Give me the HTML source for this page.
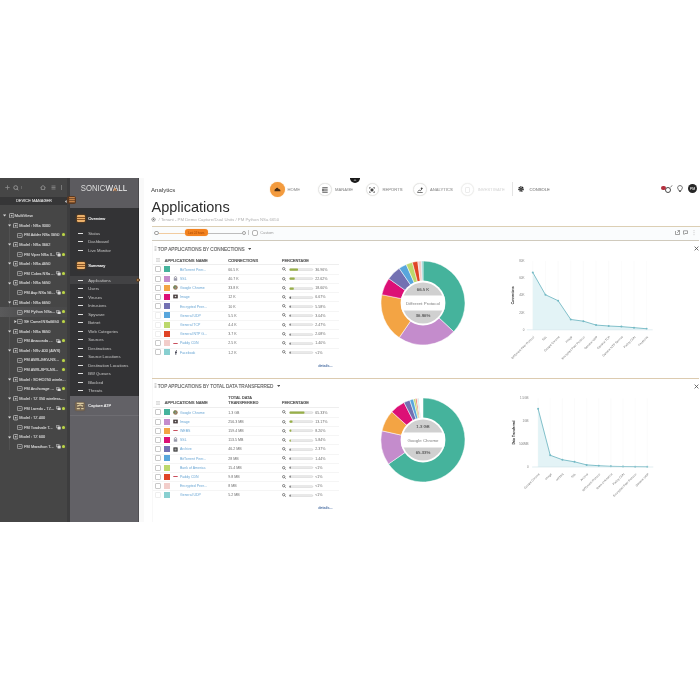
<!DOCTYPE html>
<html><head><meta charset="utf-8"><style>
*{box-sizing:border-box;margin:0;padding:0}
html,body{width:700px;height:700px;background:#fff;overflow:hidden;font-family:"Liberation Sans", sans-serif}
.a{position:absolute;white-space:nowrap;line-height:1}
</style></head><body>

<div class="a" style="left:0px;top:178px;width:69.5px;height:344px;background:#464646;"></div>
<div class="a" style="left:0px;top:197px;width:69.5px;height:8.2px;background:#363637;"></div>
<div class="a" style="left:66.5px;top:178px;width:3px;height:344px;background:#3d3d3e;"></div>
<svg class="a" style="left:5px;top:185px" width="5" height="5"><path d="M2.5 0.3 V4.7 M0.3 2.5 H4.7" stroke="#8c8c8c" stroke-width="0.8"/></svg>
<svg class="a" style="left:12.8px;top:184.8px" width="6" height="6"><circle cx="2.7" cy="2.6" r="1.9" fill="none" stroke="#999" stroke-width="0.9"/><line x1="4" y1="3.9" x2="5.4" y2="5.3" stroke="#999" stroke-width="0.9"/></svg>
<div class="a" style="left:20.8px;top:186px;width:0.5px;height:3px;background:#666;"></div>
<svg class="a" style="left:40px;top:185px" width="6" height="5"><path d="M0.5 2.6 L3 0.5 L5.5 2.6 M1.3 2.2 V4.6 H4.7 V2.2" fill="none" stroke="#999" stroke-width="0.8"/></svg>
<svg class="a" style="left:50.6px;top:185px" width="5" height="5"><path d="M0.5 1 H4.5 M0.5 2.5 H4.5 M0.5 4 H4.5" stroke="#8a8a8a" stroke-width="0.8"/></svg>
<div class="a" style="left:60.8px;top:185px;width:0.6px;height:5px;background:#777;"></div>
<div class="a" style="left:9.4px;top:220px;width:0.5px;height:230px;background:#515151;"></div>
<svg class="a" style="left:3px;top:214.30px" width="3.2" height="3"><path d="M0 0.4 H3.2 L1.6 2.6 Z" fill="#d8d8d8"/></svg>
<svg class="a" style="left:8.5px;top:213.10px" width="5.4" height="5.4"><rect x="0.45" y="0.45" width="4.5" height="4.5" rx="1" fill="none" stroke="#cfcfcf" stroke-width="0.75"/><rect x="1.9" y="1.9" width="1.6" height="1.6" fill="#bdbdbd"/></svg>
<svg class="a" style="left:8px;top:223.92px" width="3.2" height="3"><path d="M0 0.4 H3.2 L1.6 2.6 Z" fill="#d8d8d8"/></svg>
<svg class="a" style="left:12.8px;top:222.72px" width="5.4" height="5.4"><rect x="0.45" y="0.45" width="4.5" height="4.5" rx="1" fill="none" stroke="#cfcfcf" stroke-width="0.75"/><rect x="1.9" y="1.9" width="1.6" height="1.6" fill="#bdbdbd"/></svg>
<svg class="a" style="left:17.2px;top:232.54px" width="5.6" height="5"><rect x="0.4" y="0.4" width="4.8" height="4.2" rx="0.8" fill="none" stroke="#c6c6c6" stroke-width="0.7"/><path d="M1.6 2.5 H4" stroke="#aaa" stroke-width="0.6"/></svg>
<div class="a" style="left:61.9px;top:233.44px;width:3px;height:3px;border-radius:50%;background:#bcd64a;box-shadow:0 0 1.2px #7a8a30"></div>
<svg class="a" style="left:8px;top:243.16px" width="3.2" height="3"><path d="M0 0.4 H3.2 L1.6 2.6 Z" fill="#d8d8d8"/></svg>
<svg class="a" style="left:12.8px;top:241.96px" width="5.4" height="5.4"><rect x="0.45" y="0.45" width="4.5" height="4.5" rx="1" fill="none" stroke="#cfcfcf" stroke-width="0.75"/><rect x="1.9" y="1.9" width="1.6" height="1.6" fill="#bdbdbd"/></svg>
<svg class="a" style="left:17.2px;top:251.78px" width="5.6" height="5"><rect x="0.4" y="0.4" width="4.8" height="4.2" rx="0.8" fill="none" stroke="#c6c6c6" stroke-width="0.7"/><path d="M1.6 2.5 H4" stroke="#aaa" stroke-width="0.6"/></svg>
<svg class="a" style="left:55.5px;top:251.98px" width="5" height="4.6"><path d="M0.4 0.4 H3.2 V1.2 M0.4 0.4 V2.8 H1.2" fill="none" stroke="#d0d0d0" stroke-width="0.6"/><rect x="1.5" y="1.5" width="3.2" height="2.9" rx="0.4" fill="#d8d8d8"/></svg>
<div class="a" style="left:61.9px;top:252.68px;width:3px;height:3px;border-radius:50%;background:#bcd64a;box-shadow:0 0 1.2px #7a8a30"></div>
<svg class="a" style="left:8px;top:262.40px" width="3.2" height="3"><path d="M0 0.4 H3.2 L1.6 2.6 Z" fill="#d8d8d8"/></svg>
<svg class="a" style="left:12.8px;top:261.20px" width="5.4" height="5.4"><rect x="0.45" y="0.45" width="4.5" height="4.5" rx="1" fill="none" stroke="#cfcfcf" stroke-width="0.75"/><rect x="1.9" y="1.9" width="1.6" height="1.6" fill="#bdbdbd"/></svg>
<svg class="a" style="left:17.2px;top:271.02px" width="5.6" height="5"><rect x="0.4" y="0.4" width="4.8" height="4.2" rx="0.8" fill="none" stroke="#c6c6c6" stroke-width="0.7"/><path d="M1.6 2.5 H4" stroke="#aaa" stroke-width="0.6"/></svg>
<svg class="a" style="left:55.5px;top:271.22px" width="5" height="4.6"><path d="M0.4 0.4 H3.2 V1.2 M0.4 0.4 V2.8 H1.2" fill="none" stroke="#d0d0d0" stroke-width="0.6"/><rect x="1.5" y="1.5" width="3.2" height="2.9" rx="0.4" fill="#d8d8d8"/></svg>
<div class="a" style="left:61.9px;top:271.92px;width:3px;height:3px;border-radius:50%;background:#bcd64a;box-shadow:0 0 1.2px #7a8a30"></div>
<svg class="a" style="left:8px;top:281.64px" width="3.2" height="3"><path d="M0 0.4 H3.2 L1.6 2.6 Z" fill="#d8d8d8"/></svg>
<svg class="a" style="left:12.8px;top:280.44px" width="5.4" height="5.4"><rect x="0.45" y="0.45" width="4.5" height="4.5" rx="1" fill="none" stroke="#cfcfcf" stroke-width="0.75"/><rect x="1.9" y="1.9" width="1.6" height="1.6" fill="#bdbdbd"/></svg>
<svg class="a" style="left:17.2px;top:290.26px" width="5.6" height="5"><rect x="0.4" y="0.4" width="4.8" height="4.2" rx="0.8" fill="none" stroke="#c6c6c6" stroke-width="0.7"/><path d="M1.6 2.5 H4" stroke="#aaa" stroke-width="0.6"/></svg>
<svg class="a" style="left:55.5px;top:290.46px" width="5" height="4.6"><path d="M0.4 0.4 H3.2 V1.2 M0.4 0.4 V2.8 H1.2" fill="none" stroke="#d0d0d0" stroke-width="0.6"/><rect x="1.5" y="1.5" width="3.2" height="2.9" rx="0.4" fill="#d8d8d8"/></svg>
<div class="a" style="left:61.9px;top:291.16px;width:3px;height:3px;border-radius:50%;background:#bcd64a;box-shadow:0 0 1.2px #7a8a30"></div>
<svg class="a" style="left:8px;top:300.88px" width="3.2" height="3"><path d="M0 0.4 H3.2 L1.6 2.6 Z" fill="#d8d8d8"/></svg>
<svg class="a" style="left:12.8px;top:299.68px" width="5.4" height="5.4"><rect x="0.45" y="0.45" width="4.5" height="4.5" rx="1" fill="none" stroke="#cfcfcf" stroke-width="0.75"/><rect x="1.9" y="1.9" width="1.6" height="1.6" fill="#bdbdbd"/></svg>
<div class="a" style="left:0px;top:307.2px;width:66.5px;height:9.4px;background:linear-gradient(90deg,#5a5a5b 0%,#525253 25%,#4c4c4d 60%,#49494a 100%);"></div>
<svg class="a" style="left:17.2px;top:309.50px" width="5.6" height="5"><rect x="0.4" y="0.4" width="4.8" height="4.2" rx="0.8" fill="none" stroke="#c6c6c6" stroke-width="0.7"/><path d="M1.6 2.5 H4" stroke="#aaa" stroke-width="0.6"/></svg>
<svg class="a" style="left:55.5px;top:309.70px" width="5" height="4.6"><path d="M0.4 0.4 H3.2 V1.2 M0.4 0.4 V2.8 H1.2" fill="none" stroke="#d0d0d0" stroke-width="0.6"/><rect x="1.5" y="1.5" width="3.2" height="2.9" rx="0.4" fill="#d8d8d8"/></svg>
<div class="a" style="left:61.9px;top:310.40px;width:3px;height:3px;border-radius:50%;background:#bcd64a;box-shadow:0 0 1.2px #7a8a30"></div>
<svg class="a" style="left:13.8px;top:319.92px" width="3" height="3.2"><path d="M0.4 0 V3.2 L2.6 1.6 Z" fill="#d8d8d8"/></svg>
<svg class="a" style="left:17.2px;top:319.12px" width="5.6" height="5"><rect x="0.4" y="0.4" width="4.8" height="4.2" rx="0.8" fill="none" stroke="#c6c6c6" stroke-width="0.7"/><path d="M1.6 2.5 H4" stroke="#aaa" stroke-width="0.6"/></svg>
<div class="a" style="left:61.9px;top:320.02px;width:3px;height:3px;border-radius:50%;background:#bcd64a;box-shadow:0 0 1.2px #7a8a30"></div>
<svg class="a" style="left:8px;top:329.74px" width="3.2" height="3"><path d="M0 0.4 H3.2 L1.6 2.6 Z" fill="#d8d8d8"/></svg>
<svg class="a" style="left:12.8px;top:328.54px" width="5.4" height="5.4"><rect x="0.45" y="0.45" width="4.5" height="4.5" rx="1" fill="none" stroke="#cfcfcf" stroke-width="0.75"/><rect x="1.9" y="1.9" width="1.6" height="1.6" fill="#bdbdbd"/></svg>
<svg class="a" style="left:17.2px;top:338.36px" width="5.6" height="5"><rect x="0.4" y="0.4" width="4.8" height="4.2" rx="0.8" fill="none" stroke="#c6c6c6" stroke-width="0.7"/><path d="M1.6 2.5 H4" stroke="#aaa" stroke-width="0.6"/></svg>
<svg class="a" style="left:55.5px;top:338.56px" width="5" height="4.6"><path d="M0.4 0.4 H3.2 V1.2 M0.4 0.4 V2.8 H1.2" fill="none" stroke="#d0d0d0" stroke-width="0.6"/><rect x="1.5" y="1.5" width="3.2" height="2.9" rx="0.4" fill="#d8d8d8"/></svg>
<div class="a" style="left:61.9px;top:339.26px;width:3px;height:3px;border-radius:50%;background:#bcd64a;box-shadow:0 0 1.2px #7a8a30"></div>
<svg class="a" style="left:8px;top:348.98px" width="3.2" height="3"><path d="M0 0.4 H3.2 L1.6 2.6 Z" fill="#d8d8d8"/></svg>
<svg class="a" style="left:12.8px;top:347.78px" width="5.4" height="5.4"><rect x="0.45" y="0.45" width="4.5" height="4.5" rx="1" fill="none" stroke="#cfcfcf" stroke-width="0.75"/><rect x="1.9" y="1.9" width="1.6" height="1.6" fill="#bdbdbd"/></svg>
<svg class="a" style="left:17.2px;top:357.60px" width="5.6" height="5"><rect x="0.4" y="0.4" width="4.8" height="4.2" rx="0.8" fill="none" stroke="#c6c6c6" stroke-width="0.7"/><path d="M1.6 2.5 H4" stroke="#aaa" stroke-width="0.6"/></svg>
<div class="a" style="left:61.9px;top:358.50px;width:3px;height:3px;border-radius:50%;background:#bcd64a;box-shadow:0 0 1.2px #7a8a30"></div>
<svg class="a" style="left:17.2px;top:367.22px" width="5.6" height="5"><rect x="0.4" y="0.4" width="4.8" height="4.2" rx="0.8" fill="none" stroke="#c6c6c6" stroke-width="0.7"/><path d="M1.6 2.5 H4" stroke="#aaa" stroke-width="0.6"/></svg>
<div class="a" style="left:61.9px;top:368.12px;width:3px;height:3px;border-radius:50%;background:#bcd64a;box-shadow:0 0 1.2px #7a8a30"></div>
<svg class="a" style="left:8px;top:377.84px" width="3.2" height="3"><path d="M0 0.4 H3.2 L1.6 2.6 Z" fill="#d8d8d8"/></svg>
<svg class="a" style="left:12.8px;top:376.64px" width="5.4" height="5.4"><rect x="0.45" y="0.45" width="4.5" height="4.5" rx="1" fill="none" stroke="#cfcfcf" stroke-width="0.75"/><rect x="1.9" y="1.9" width="1.6" height="1.6" fill="#bdbdbd"/></svg>
<svg class="a" style="left:17.2px;top:386.46px" width="5.6" height="5"><rect x="0.4" y="0.4" width="4.8" height="4.2" rx="0.8" fill="none" stroke="#c6c6c6" stroke-width="0.7"/><path d="M1.6 2.5 H4" stroke="#aaa" stroke-width="0.6"/></svg>
<svg class="a" style="left:55.5px;top:386.66px" width="5" height="4.6"><path d="M0.4 0.4 H3.2 V1.2 M0.4 0.4 V2.8 H1.2" fill="none" stroke="#d0d0d0" stroke-width="0.6"/><rect x="1.5" y="1.5" width="3.2" height="2.9" rx="0.4" fill="#d8d8d8"/></svg>
<div class="a" style="left:61.9px;top:387.36px;width:3px;height:3px;border-radius:50%;background:#bcd64a;box-shadow:0 0 1.2px #7a8a30"></div>
<svg class="a" style="left:8px;top:397.08px" width="3.2" height="3"><path d="M0 0.4 H3.2 L1.6 2.6 Z" fill="#d8d8d8"/></svg>
<svg class="a" style="left:12.8px;top:395.88px" width="5.4" height="5.4"><rect x="0.45" y="0.45" width="4.5" height="4.5" rx="1" fill="none" stroke="#cfcfcf" stroke-width="0.75"/><rect x="1.9" y="1.9" width="1.6" height="1.6" fill="#bdbdbd"/></svg>
<svg class="a" style="left:17.2px;top:405.70px" width="5.6" height="5"><rect x="0.4" y="0.4" width="4.8" height="4.2" rx="0.8" fill="none" stroke="#c6c6c6" stroke-width="0.7"/><path d="M1.6 2.5 H4" stroke="#aaa" stroke-width="0.6"/></svg>
<svg class="a" style="left:55.5px;top:405.90px" width="5" height="4.6"><path d="M0.4 0.4 H3.2 V1.2 M0.4 0.4 V2.8 H1.2" fill="none" stroke="#d0d0d0" stroke-width="0.6"/><rect x="1.5" y="1.5" width="3.2" height="2.9" rx="0.4" fill="#d8d8d8"/></svg>
<div class="a" style="left:61.9px;top:406.60px;width:3px;height:3px;border-radius:50%;background:#bcd64a;box-shadow:0 0 1.2px #7a8a30"></div>
<svg class="a" style="left:8px;top:416.32px" width="3.2" height="3"><path d="M0 0.4 H3.2 L1.6 2.6 Z" fill="#d8d8d8"/></svg>
<svg class="a" style="left:12.8px;top:415.12px" width="5.4" height="5.4"><rect x="0.45" y="0.45" width="4.5" height="4.5" rx="1" fill="none" stroke="#cfcfcf" stroke-width="0.75"/><rect x="1.9" y="1.9" width="1.6" height="1.6" fill="#bdbdbd"/></svg>
<svg class="a" style="left:17.2px;top:424.94px" width="5.6" height="5"><rect x="0.4" y="0.4" width="4.8" height="4.2" rx="0.8" fill="none" stroke="#c6c6c6" stroke-width="0.7"/><path d="M1.6 2.5 H4" stroke="#aaa" stroke-width="0.6"/></svg>
<svg class="a" style="left:55.5px;top:425.14px" width="5" height="4.6"><path d="M0.4 0.4 H3.2 V1.2 M0.4 0.4 V2.8 H1.2" fill="none" stroke="#d0d0d0" stroke-width="0.6"/><rect x="1.5" y="1.5" width="3.2" height="2.9" rx="0.4" fill="#d8d8d8"/></svg>
<div class="a" style="left:61.9px;top:425.84px;width:3px;height:3px;border-radius:50%;background:#bcd64a;box-shadow:0 0 1.2px #7a8a30"></div>
<svg class="a" style="left:8px;top:435.56px" width="3.2" height="3"><path d="M0 0.4 H3.2 L1.6 2.6 Z" fill="#d8d8d8"/></svg>
<svg class="a" style="left:12.8px;top:434.36px" width="5.4" height="5.4"><rect x="0.45" y="0.45" width="4.5" height="4.5" rx="1" fill="none" stroke="#cfcfcf" stroke-width="0.75"/><rect x="1.9" y="1.9" width="1.6" height="1.6" fill="#bdbdbd"/></svg>
<svg class="a" style="left:17.2px;top:444.18px" width="5.6" height="5"><rect x="0.4" y="0.4" width="4.8" height="4.2" rx="0.8" fill="none" stroke="#c6c6c6" stroke-width="0.7"/><path d="M1.6 2.5 H4" stroke="#aaa" stroke-width="0.6"/></svg>
<svg class="a" style="left:55.5px;top:444.38px" width="5" height="4.6"><path d="M0.4 0.4 H3.2 V1.2 M0.4 0.4 V2.8 H1.2" fill="none" stroke="#d0d0d0" stroke-width="0.6"/><rect x="1.5" y="1.5" width="3.2" height="2.9" rx="0.4" fill="#d8d8d8"/></svg>
<div class="a" style="left:61.9px;top:445.08px;width:3px;height:3px;border-radius:50%;background:#bcd64a;box-shadow:0 0 1.2px #7a8a30"></div>
<div class="a" style="left:69.5px;top:178px;width:69.2px;height:30px;background:#5c5b5f;"></div>
<div class="a" style="left:69.5px;top:208px;width:69.2px;height:188px;background:#333335;"></div>
<div class="a" style="left:69.5px;top:396px;width:69.2px;height:126px;background:#626166;"></div>
<div class="a" style="left:69.5px;top:415px;width:69.2px;height:0.5px;background:#6e6d72;"></div>
<svg class="a" style="left:64.5px;top:200px" width="2" height="3"><path d="M0 1.5 L1.6 0 V3Z" fill="#ddd"/></svg>
<div class="a" style="left:67.2px;top:195.8px;width:8.8px;height:8.6px;border-radius:2.5px;background:#5a3820"></div>
<svg class="a" style="left:68.6px;top:197.4px" width="6" height="5.6"><path d="M0.2 0.8 H5.8 M0.2 2.8 H5.8 M0.2 4.8 H5.8" stroke="#e89a55" stroke-width="1.1"/></svg>
<div class="a" style="left:77px;top:214.5px;width:7.5px;height:7.6px;background:#ecb06a;border-radius:1.2px;box-shadow:0 0 1.6px 0.6px #6a4218"></div>
<div class="a" style="left:77px;top:216.85px;width:7.5px;height:0.6px;background:#8a5526;"></div>
<div class="a" style="left:77px;top:219.35px;width:7.5px;height:0.6px;background:#8a5526;"></div>
<div class="a" style="left:77px;top:261.5px;width:7.5px;height:7.6px;background:#ecb06a;border-radius:1.2px;box-shadow:0 0 1.6px 0.6px #6a4218"></div>
<div class="a" style="left:77px;top:263.85px;width:7.5px;height:0.6px;background:#8a5526;"></div>
<div class="a" style="left:77px;top:266.35px;width:7.5px;height:0.6px;background:#8a5526;"></div>
<div class="a" style="left:78px;top:232.55px;width:5.2px;height:0.9px;background:#e0e0e0;"></div>
<div class="a" style="left:78px;top:241.15px;width:5.2px;height:0.9px;background:#e0e0e0;"></div>
<div class="a" style="left:78px;top:249.75px;width:5.2px;height:0.9px;background:#e0e0e0;"></div>
<div class="a" style="left:69.5px;top:275.8px;width:69.2px;height:8.5px;background:#424244;"></div>
<div class="a" style="left:78px;top:279.95px;width:5.2px;height:0.9px;background:#e0e0e0;"></div>
<div class="a" style="left:78px;top:288.45px;width:5.2px;height:0.9px;background:#e0e0e0;"></div>
<div class="a" style="left:78px;top:296.95px;width:5.2px;height:0.9px;background:#e0e0e0;"></div>
<div class="a" style="left:78px;top:305.45px;width:5.2px;height:0.9px;background:#e0e0e0;"></div>
<div class="a" style="left:78px;top:313.95px;width:5.2px;height:0.9px;background:#e0e0e0;"></div>
<div class="a" style="left:78px;top:322.45px;width:5.2px;height:0.9px;background:#e0e0e0;"></div>
<div class="a" style="left:78px;top:330.95px;width:5.2px;height:0.9px;background:#e0e0e0;"></div>
<div class="a" style="left:78px;top:339.45px;width:5.2px;height:0.9px;background:#e0e0e0;"></div>
<div class="a" style="left:78px;top:347.95px;width:5.2px;height:0.9px;background:#e0e0e0;"></div>
<div class="a" style="left:78px;top:356.45px;width:5.2px;height:0.9px;background:#e0e0e0;"></div>
<div class="a" style="left:78px;top:364.95px;width:5.2px;height:0.9px;background:#e0e0e0;"></div>
<div class="a" style="left:78px;top:373.45px;width:5.2px;height:0.9px;background:#e0e0e0;"></div>
<div class="a" style="left:78px;top:381.95px;width:5.2px;height:0.9px;background:#e0e0e0;"></div>
<div class="a" style="left:78px;top:390.45px;width:5.2px;height:0.9px;background:#e0e0e0;"></div>
<div class="a" style="left:75.2px;top:401.6px;width:9.6px;height:9.2px;border-radius:2px;background:#766652;box-shadow:0 0 1.2px #5a4c3c"></div>
<svg class="a" style="left:75.8px;top:402.2px" width="8.4" height="8"><path d="M0.8 1.4 H7.6 M1.2 4.2 L4.2 3 L7 4.2 M0.8 6.6 H3.8 M5.2 6.6 H7.6" stroke="#dccba0" stroke-width="1.3" fill="none"/></svg>
<div class="a" style="left:139px;top:178px;width:4.6px;height:344px;background:#f9f9f9;"></div>
<div class="a" style="left:152.4px;top:241.5px;width:0.4px;height:280px;background:#f8f8f8;"></div>
<div class="a" style="left:136.3px;top:278.3px;width:4.2px;height:4.2px;border-radius:50%;background:#c89a6a;border:0.7px solid #5a3a1a"></div>
<div class="a" style="left:137.6px;top:178px;width:1.4px;height:344px;background:rgba(0,0,0,0.18);"></div>
<svg class="a" style="left:150.6px;top:217.1px" width="5" height="5"><circle cx="2.5" cy="2.5" r="1.7" fill="none" stroke="#666" stroke-width="1" stroke-dasharray="0.9 0.45"/><circle cx="2.5" cy="2.5" r="0.7" fill="#666"/></svg>
<div class="a" style="left:269.90000000000003px;top:182.29999999999998px;width:14.8px;height:14.8px;border-radius:50%;background:#f39b3e;box-shadow:0 0 1.2px #f8c890"></div>
<svg class="a" style="left:273.8px;top:187.39999999999998px" width="7" height="5"><path d="M0.5 4.2 H6.5 C6.5 2.5 5.5 1.8 4.6 2 C4.2 0.6 2.2 0.4 1.8 1.8 C0.8 2 0.5 3 0.5 4.2Z" fill="#4a2e14"/></svg>
<div class="a" style="left:318.0px;top:182.7px;width:13.6px;height:13.6px;border-radius:50%;background:#fff;border:0.9px solid #e6e6e6;box-shadow:0 0 1.2px #e8e8e0"></div>
<svg class="a" style="left:321.8px;top:186.8px" width="6" height="6"><path d="M0.3 0.6 H5.7 M2 2.2 H5.7 M2 3.8 H5.7 M0.3 5.4 H5.7" stroke="#444" stroke-width="0.75"/><rect x="0.3" y="1.6" width="1.4" height="2.8" fill="#444"/></svg>
<div class="a" style="left:365.5px;top:182.79999999999998px;width:13.6px;height:13.6px;border-radius:50%;background:#fff;border:0.9px solid #e6e6e6;box-shadow:0 0 1.2px #e8e8e0"></div>
<svg class="a" style="left:369.3px;top:186.6px" width="6" height="6"><path d="M0.4 1.8 V0.4 H1.8 M4.2 0.4 H5.6 V1.8 M5.6 4.2 V5.6 H4.2 M1.8 5.6 H0.4 V4.2" stroke="#555" stroke-width="0.7" fill="none"/><rect x="1.6" y="1.6" width="2.8" height="2.8" fill="#444"/></svg>
<div class="a" style="left:413.0px;top:182.7px;width:13.6px;height:13.6px;border-radius:50%;background:#fff;border:0.9px solid #e6e6e6;box-shadow:0 0 1.2px #e8e8e0"></div>
<svg class="a" style="left:416.8px;top:186.5px" width="6" height="6"><path d="M0.3 5.6 H5.7 M0.8 4.6 L2.3 3 L3.4 3.8 L5.4 1.4" stroke="#444" stroke-width="0.8" fill="none"/><circle cx="4.6" cy="1.3" r="0.9" fill="#444"/></svg>
<div class="a" style="left:460.59999999999997px;top:182.6px;width:13.6px;height:13.6px;border-radius:50%;background:#fff;border:0.9px solid #f0f0f0;box-shadow:0 0 1.2px #e8e8e0"></div>
<svg class="a" style="left:465px;top:186.8px" width="5" height="6"><rect x="0.5" y="0.5" width="4" height="5" rx="0.6" fill="none" stroke="#e4e4e4" stroke-width="0.7"/></svg>
<div class="a" style="left:512px;top:182px;width:0.6px;height:14px;background:#e4e4e4;"></div>
<svg class="a" style="left:518.3px;top:186.3px" width="6" height="6"><circle cx="3" cy="3" r="2.1" fill="none" stroke="#1a1a1a" stroke-width="1.4" stroke-dasharray="1.1 0.55"/><circle cx="3" cy="3" r="1.6" fill="#1a1a1a"/><circle cx="3" cy="3" r="0.55" fill="#fff"/></svg>
<div class="a" style="left:350.1px;top:178px;width:9.9px;height:4.8px;border-radius:0 0 4.95px 4.95px / 0 0 4.8px 4.8px;background:#1a1a1a"></div>
<svg class="a" style="left:353.1px;top:178.6px" width="4" height="2.5"><path d="M0.6 2 L2 0.7 L3.4 2" stroke="#ddd" stroke-width="0.7" fill="none"/></svg>
<div class="a" style="left:665.1px;top:186.5px;width:6.2px;height:6.2px;border-radius:50%;border:0.85px solid #4a4a4a;background:#fff"></div>
<svg class="a" style="left:669.6px;top:185.3px" width="3" height="3"><path d="M0.4 2.2 L2.4 0.4" stroke="#555" stroke-width="0.8"/></svg>
<div class="a" style="left:660.8px;top:185.5px;width:4.9px;height:4.9px;border-radius:50%;background:#b3303e"></div>
<svg class="a" style="left:677.2px;top:185.2px" width="6" height="8"><path d="M3 0.6 C1.3 0.6 0.6 1.8 0.6 2.8 C0.6 4 1.8 4.6 1.9 5.6 H4.1 C4.2 4.6 5.4 4 5.4 2.8 C5.4 1.8 4.7 0.6 3 0.6Z M2 6.5 H4" fill="none" stroke="#555" stroke-width="0.85"/></svg>
<div class="a" style="left:687.9px;top:184.3px;width:9.2px;height:9.2px;border-radius:50%;background:#262626"></div>
<div class="a" style="left:152px;top:225.9px;width:548px;height:1.0px;background:#dccfb4;"></div>
<div class="a" style="left:152px;top:226.9px;width:548px;height:12.7px;background:#fafcfd;"></div>
<div class="a" style="left:152px;top:239.5px;width:547px;height:1.8px;background:#d0cabd;"></div>
<div class="a" style="left:154.4px;top:230.9px;width:4.2px;height:4.2px;border-radius:50%;border:0.8px solid #a0a0a0;background:#fff"></div>
<div class="a" style="left:158.6px;top:232.6px;width:26.6px;height:0.9px;background:#f1cca0;"></div>
<div class="a" style="left:185px;top:229.4px;width:22.6px;height:6.6px;border-radius:3.3px;background:#f2821f;box-shadow:0 0 1px #f7b070"></div>
<div class="a" style="left:207.6px;top:232.6px;width:34.6px;height:0.9px;background:#bdbdbd;"></div>
<div class="a" style="left:242.2px;top:230.9px;width:4.2px;height:4.2px;border-radius:50%;border:0.8px solid #a0a0a0;background:#fff"></div>
<div class="a" style="left:248.3px;top:230.2px;width:0.5px;height:5.2px;background:#c8c8c8;"></div>
<div class="a" style="left:251.8px;top:229.9px;width:5.8px;height:5.8px;border-radius:2px;border:0.7px solid #b4b4b4;background:#fff"></div>
<svg class="a" style="left:674.5px;top:229.5px" width="5" height="5"><path d="M0.5 1 V4.5 H4.5 V2.5 M2.5 0.5 H4.5 V2.5 M4.5 0.5 L2.2 2.8" stroke="#666" stroke-width="0.6" fill="none"/></svg>
<svg class="a" style="left:683px;top:229.8px" width="5" height="5"><path d="M0.5 0.8 H4.5 V3.5 H2 L1 4.5 V3.5 H0.5 Z" stroke="#666" stroke-width="0.6" fill="none"/></svg>
<svg class="a" style="left:693px;top:229.5px" width="2" height="6"><circle cx="1" cy="0.8" r="0.45" fill="#999"/><circle cx="1" cy="2.8" r="0.45" fill="#999"/><circle cx="1" cy="4.8" r="0.45" fill="#999"/></svg>
<svg class="a" style="left:153.6px;top:246.10px" width="3" height="6"><path d="M1.5 0.3 V5.3" stroke="#c4c4c4" stroke-width="2" stroke-dasharray="0.8 0.5"/></svg>
<svg class="a" style="left:247.8px;top:247.60px" width="3.4" height="2.4"><path d="M0 0 H3.4 L1.7 2 Z" fill="#555"/></svg>
<svg class="a" style="left:693.5px;top:246.40px" width="5" height="5"><path d="M0.6 0.6 L4.4 4.4 M4.4 0.6 L0.6 4.4" stroke="#555" stroke-width="0.85"/></svg>
<svg class="a" style="left:156px;top:258.30px" width="4" height="4"><path d="M0 0.6 H4 M0 2 H4 M0 3.4 H4" stroke="#c8c8c8" stroke-width="0.7"/></svg>
<div class="a" style="left:153px;top:264.3px;width:186px;height:0.5px;background:#eeeeee;"></div>
<div class="a" style="left:155.3px;top:266.30px;width:6.1px;height:6.1px;border:0.7px solid #c9c9c9;border-radius:1px;background:#fff"></div>
<div class="a" style="left:164px;top:266.3px;width:6px;height:6px;background:#45b39c;"></div>
<svg class="a" style="left:281.8px;top:267.30px" width="4" height="4"><circle cx="1.7" cy="1.7" r="1.2" fill="none" stroke="#555" stroke-width="0.7"/><line x1="2.6" y1="2.6" x2="3.7" y2="3.7" stroke="#555" stroke-width="0.7"/></svg>
<svg class="a" style="left:289px;top:268.00px" width="25" height="3"><rect x="0.8" y="0.8" width="23" height="1.6" rx="0.8" fill="#f2f2f2" stroke="#cfcfcf" stroke-width="0.6"/><rect x="0.5" y="0.5" width="8.51" height="2.2" rx="0.6" fill="#98b048"/></svg>
<div class="a" style="left:153px;top:273.8px;width:186px;height:0.4px;background:#f5f5f5;"></div>
<div class="a" style="left:155.3px;top:275.53px;width:6.1px;height:6.1px;border:0.7px solid #c9c9c9;border-radius:1px;background:#fff"></div>
<div class="a" style="left:164px;top:275.53000000000003px;width:6px;height:6px;background:#c48ccc;"></div>
<svg class="a" style="left:173px;top:276.03px" width="5" height="5"><path d="M1.4 2.2 V1.5 C1.4 0.3 3.6 0.3 3.6 1.5 V2.2" fill="none" stroke="#667" stroke-width="0.6"/><rect x="0.8" y="2.2" width="3.4" height="2.5" fill="#99a"/></svg>
<svg class="a" style="left:281.8px;top:276.53px" width="4" height="4"><circle cx="1.7" cy="1.7" r="1.2" fill="none" stroke="#555" stroke-width="0.7"/><line x1="2.6" y1="2.6" x2="3.7" y2="3.7" stroke="#555" stroke-width="0.7"/></svg>
<svg class="a" style="left:289px;top:277.00px" width="25" height="3"><rect x="0.8" y="0.8" width="23" height="1.6" rx="0.8" fill="#f2f2f2" stroke="#cfcfcf" stroke-width="0.6"/><rect x="0.5" y="0.5" width="5.20" height="2.2" rx="0.6" fill="#98b048"/></svg>
<div class="a" style="left:153px;top:283.03000000000003px;width:186px;height:0.4px;background:#f5f5f5;"></div>
<div class="a" style="left:155.3px;top:284.76px;width:6.1px;height:6.1px;border:0.7px solid #c9c9c9;border-radius:1px;background:#fff"></div>
<div class="a" style="left:164px;top:284.76px;width:6px;height:6px;background:#f3a444;"></div>
<svg class="a" style="left:173px;top:285.26px" width="5" height="5"><circle cx="2.5" cy="2.5" r="2.2" fill="#9a7a55"/><circle cx="2.5" cy="2.5" r="0.9" fill="#8a9aa8"/><path d="M2.5 0.3 A2.2 2.2 0 0 0 0.6 3.6 L2.5 2.5Z" fill="#6f8a5a"/></svg>
<svg class="a" style="left:281.8px;top:285.76px" width="4" height="4"><circle cx="1.7" cy="1.7" r="1.2" fill="none" stroke="#555" stroke-width="0.7"/><line x1="2.6" y1="2.6" x2="3.7" y2="3.7" stroke="#555" stroke-width="0.7"/></svg>
<svg class="a" style="left:289px;top:286.50px" width="25" height="3"><rect x="0.8" y="0.8" width="23" height="1.6" rx="0.8" fill="#f2f2f2" stroke="#cfcfcf" stroke-width="0.6"/><rect x="0.5" y="0.5" width="4.28" height="2.2" rx="0.6" fill="#98b048"/></svg>
<div class="a" style="left:153px;top:292.26px;width:186px;height:0.4px;background:#f5f5f5;"></div>
<div class="a" style="left:155.3px;top:293.99px;width:6.1px;height:6.1px;border:0.7px solid #c9c9c9;border-radius:1px;background:#fff"></div>
<div class="a" style="left:164px;top:293.99px;width:6px;height:6px;background:#dc1076;"></div>
<svg class="a" style="left:173px;top:294.49px" width="5" height="5"><rect x="0.2" y="0.6" width="4.6" height="3.8" fill="#4a4040"/><circle cx="2.5" cy="2.5" r="0.8" fill="#ddd"/></svg>
<svg class="a" style="left:281.8px;top:294.99px" width="4" height="4"><circle cx="1.7" cy="1.7" r="1.2" fill="none" stroke="#555" stroke-width="0.7"/><line x1="2.6" y1="2.6" x2="3.7" y2="3.7" stroke="#555" stroke-width="0.7"/></svg>
<svg class="a" style="left:289px;top:295.50px" width="25" height="3"><rect x="0.8" y="0.8" width="23" height="1.6" rx="0.8" fill="#f2f2f2" stroke="#cfcfcf" stroke-width="0.6"/><rect x="0.5" y="0.5" width="1.54" height="2.2" rx="0.6" fill="#666"/></svg>
<div class="a" style="left:153px;top:301.49px;width:186px;height:0.4px;background:#f5f5f5;"></div>
<div class="a" style="left:155.3px;top:303.22px;width:6.1px;height:6.1px;border:0.7px solid #c9c9c9;border-radius:1px;background:#fff"></div>
<div class="a" style="left:164px;top:303.22px;width:6px;height:6px;background:#7371b2;"></div>
<svg class="a" style="left:281.8px;top:304.22px" width="4" height="4"><circle cx="1.7" cy="1.7" r="1.2" fill="none" stroke="#555" stroke-width="0.7"/><line x1="2.6" y1="2.6" x2="3.7" y2="3.7" stroke="#555" stroke-width="0.7"/></svg>
<svg class="a" style="left:289px;top:304.50px" width="25" height="3"><rect x="0.8" y="0.8" width="23" height="1.6" rx="0.8" fill="#f2f2f2" stroke="#cfcfcf" stroke-width="0.6"/><rect x="0.5" y="0.5" width="1.29" height="2.2" rx="0.6" fill="#666"/></svg>
<div class="a" style="left:153px;top:310.72px;width:186px;height:0.4px;background:#f5f5f5;"></div>
<div class="a" style="left:155.3px;top:312.45px;width:6.1px;height:6.1px;border:0.7px solid #eeeeee;border-radius:1px;background:#fff"></div>
<div class="a" style="left:164px;top:312.45000000000005px;width:6px;height:6px;background:#58a6dc;"></div>
<svg class="a" style="left:281.8px;top:313.45px" width="4" height="4"><circle cx="1.7" cy="1.7" r="1.2" fill="none" stroke="#555" stroke-width="0.7"/><line x1="2.6" y1="2.6" x2="3.7" y2="3.7" stroke="#555" stroke-width="0.7"/></svg>
<svg class="a" style="left:289px;top:314.00px" width="25" height="3"><rect x="0.8" y="0.8" width="23" height="1.6" rx="0.8" fill="#f2f2f2" stroke="#cfcfcf" stroke-width="0.6"/><rect x="0.5" y="0.5" width="1.20" height="2.2" rx="0.6" fill="#666"/></svg>
<div class="a" style="left:153px;top:319.95000000000005px;width:186px;height:0.4px;background:#f5f5f5;"></div>
<div class="a" style="left:155.3px;top:321.68px;width:6.1px;height:6.1px;border:0.7px solid #eeeeee;border-radius:1px;background:#fff"></div>
<div class="a" style="left:164px;top:321.68px;width:6px;height:6px;background:#bcd86c;"></div>
<svg class="a" style="left:281.8px;top:322.68px" width="4" height="4"><circle cx="1.7" cy="1.7" r="1.2" fill="none" stroke="#555" stroke-width="0.7"/><line x1="2.6" y1="2.6" x2="3.7" y2="3.7" stroke="#555" stroke-width="0.7"/></svg>
<svg class="a" style="left:289px;top:323.00px" width="25" height="3"><rect x="0.8" y="0.8" width="23" height="1.6" rx="0.8" fill="#f2f2f2" stroke="#cfcfcf" stroke-width="0.6"/><rect x="0.5" y="0.5" width="1.20" height="2.2" rx="0.6" fill="#666"/></svg>
<div class="a" style="left:153px;top:329.18px;width:186px;height:0.4px;background:#f5f5f5;"></div>
<div class="a" style="left:155.3px;top:330.91px;width:6.1px;height:6.1px;border:0.7px solid #eeeeee;border-radius:1px;background:#fff"></div>
<div class="a" style="left:164px;top:330.91px;width:6px;height:6px;background:#e04426;"></div>
<svg class="a" style="left:281.8px;top:331.91px" width="4" height="4"><circle cx="1.7" cy="1.7" r="1.2" fill="none" stroke="#555" stroke-width="0.7"/><line x1="2.6" y1="2.6" x2="3.7" y2="3.7" stroke="#555" stroke-width="0.7"/></svg>
<svg class="a" style="left:289px;top:332.50px" width="25" height="3"><rect x="0.8" y="0.8" width="23" height="1.6" rx="0.8" fill="#f2f2f2" stroke="#cfcfcf" stroke-width="0.6"/><rect x="0.5" y="0.5" width="1.20" height="2.2" rx="0.6" fill="#666"/></svg>
<div class="a" style="left:153px;top:338.41px;width:186px;height:0.4px;background:#f5f5f5;"></div>
<div class="a" style="left:155.3px;top:340.14px;width:6.1px;height:6.1px;border:0.7px solid #c9c9c9;border-radius:1px;background:#fff"></div>
<div class="a" style="left:164px;top:340.14px;width:6px;height:6px;background:#f2cdca;"></div>
<svg class="a" style="left:173px;top:340.64px" width="5" height="5"><path d="M0.3 2.5 H4.7" stroke="#b23" stroke-width="0.8"/></svg>
<svg class="a" style="left:281.8px;top:341.14px" width="4" height="4"><circle cx="1.7" cy="1.7" r="1.2" fill="none" stroke="#555" stroke-width="0.7"/><line x1="2.6" y1="2.6" x2="3.7" y2="3.7" stroke="#555" stroke-width="0.7"/></svg>
<svg class="a" style="left:289px;top:341.50px" width="25" height="3"><rect x="0.8" y="0.8" width="23" height="1.6" rx="0.8" fill="#f2f2f2" stroke="#cfcfcf" stroke-width="0.6"/><rect x="0.5" y="0.5" width="1.20" height="2.2" rx="0.6" fill="#666"/></svg>
<div class="a" style="left:153px;top:347.64px;width:186px;height:0.4px;background:#f5f5f5;"></div>
<div class="a" style="left:155.3px;top:349.37px;width:6.1px;height:6.1px;border:0.7px solid #c9c9c9;border-radius:1px;background:#fff"></div>
<div class="a" style="left:164px;top:349.37px;width:6px;height:6px;background:#88cfd0;"></div>
<svg class="a" style="left:173px;top:349.87px" width="5" height="5"><path d="M2.8 4.8 V2.2 H3.8 M2.8 2.2 C2.8 1 3 0.6 4 0.6 M2 2.6 H3.8" stroke="#334" stroke-width="0.8" fill="none"/></svg>
<svg class="a" style="left:281.8px;top:350.37px" width="4" height="4"><circle cx="1.7" cy="1.7" r="1.2" fill="none" stroke="#555" stroke-width="0.7"/><line x1="2.6" y1="2.6" x2="3.7" y2="3.7" stroke="#555" stroke-width="0.7"/></svg>
<svg class="a" style="left:289px;top:351.00px" width="25" height="3"><rect x="0.8" y="0.8" width="23" height="1.6" rx="0.8" fill="#f2f2f2" stroke="#cfcfcf" stroke-width="0.6"/><rect x="0.5" y="0.5" width="1.20" height="2.2" rx="0.6" fill="#666"/></svg>
<svg class="a" style="left:380.0px;top:260.3px" width="86" height="86"><path d="M43 43 L43.00 1.00 A42 42 0 0 1 73.69 71.67 Z" fill="#45b39c" stroke="#fff" stroke-width="0.5"/><path d="M43 43 L73.69 71.67 A42 42 0 0 1 19.22 77.62 Z" fill="#c48ccc" stroke="#fff" stroke-width="0.5"/><path d="M43 43 L19.22 77.62 A42 42 0 0 1 1.84 34.66 Z" fill="#f3a444" stroke="#fff" stroke-width="0.5"/><path d="M43 43 L1.84 34.66 A42 42 0 0 1 8.79 18.63 Z" fill="#dc1076" stroke="#fff" stroke-width="0.5"/><path d="M43 43 L8.79 18.63 A42 42 0 0 1 19.24 8.37 Z" fill="#7371b2" stroke="#fff" stroke-width="0.5"/><path d="M43 43 L19.24 8.37 A42 42 0 0 1 26.25 4.49 Z" fill="#58a6dc" stroke="#fff" stroke-width="0.5"/><path d="M43 43 L26.25 4.49 A42 42 0 0 1 32.40 2.36 Z" fill="#bcd86c" stroke="#fff" stroke-width="0.5"/><path d="M43 43 L32.40 2.36 A42 42 0 0 1 37.79 1.32 Z" fill="#e04426" stroke="#fff" stroke-width="0.5"/><path d="M43 43 L37.79 1.32 A42 42 0 0 1 41.47 1.03 Z" fill="#f2cdca" stroke="#fff" stroke-width="0.5"/><path d="M43 43 L41.47 1.03 A42 42 0 0 1 43.00 1.00 Z" fill="#88cfd0" stroke="#fff" stroke-width="0.5"/><circle cx="43" cy="43" r="22.400000000000002" fill="#fff"/><circle cx="43" cy="43" r="20.6" fill="#d0d0d0"/><rect x="21.4" y="35.4" width="43.2" height="15.2" rx="2" fill="#fff"/></svg>
<svg class="a" style="left:0;top:0" width="700" height="700"><line x1="532.80" y1="260.9" x2="532.80" y2="329.8" stroke="#f4f4f4" stroke-width="0.4"/><line x1="545.45" y1="260.9" x2="545.45" y2="329.8" stroke="#f4f4f4" stroke-width="0.4"/><line x1="558.10" y1="260.9" x2="558.10" y2="329.8" stroke="#f4f4f4" stroke-width="0.4"/><line x1="570.75" y1="260.9" x2="570.75" y2="329.8" stroke="#f4f4f4" stroke-width="0.4"/><line x1="583.40" y1="260.9" x2="583.40" y2="329.8" stroke="#f4f4f4" stroke-width="0.4"/><line x1="596.05" y1="260.9" x2="596.05" y2="329.8" stroke="#f4f4f4" stroke-width="0.4"/><line x1="608.70" y1="260.9" x2="608.70" y2="329.8" stroke="#f4f4f4" stroke-width="0.4"/><line x1="621.35" y1="260.9" x2="621.35" y2="329.8" stroke="#f4f4f4" stroke-width="0.4"/><line x1="634.00" y1="260.9" x2="634.00" y2="329.8" stroke="#f4f4f4" stroke-width="0.4"/><line x1="646.65" y1="260.9" x2="646.65" y2="329.8" stroke="#f4f4f4" stroke-width="0.4"/><polygon points="532.80,329.8 532.80,272.53 545.45,294.75 558.10,300.69 570.75,319.47 583.40,321.19 596.05,325.06 608.70,326.01 621.35,326.61 634.00,327.65 646.65,328.77 646.65,329.8" fill="#e3f3f6"/><polyline points="532.80,272.53 545.45,294.75 558.10,300.69 570.75,319.47 583.40,321.19 596.05,325.06 608.70,326.01 621.35,326.61 634.00,327.65 646.65,328.77" fill="none" stroke="#7bbdc7" stroke-width="0.95"/><circle cx="532.80" cy="272.53" r="1.0" fill="#74bac5"/><circle cx="545.45" cy="294.75" r="1.0" fill="#74bac5"/><circle cx="558.10" cy="300.69" r="1.0" fill="#74bac5"/><circle cx="570.75" cy="319.47" r="1.0" fill="#74bac5"/><circle cx="583.40" cy="321.19" r="1.0" fill="#74bac5"/><circle cx="596.05" cy="325.06" r="1.0" fill="#74bac5"/><circle cx="608.70" cy="326.01" r="1.0" fill="#74bac5"/><circle cx="621.35" cy="326.61" r="1.0" fill="#74bac5"/><circle cx="634.00" cy="327.65" r="1.0" fill="#74bac5"/><circle cx="646.65" cy="328.77" r="1.0" fill="#74bac5"/><line x1="526.8" y1="329.8" x2="652.65" y2="329.8" stroke="#cfe3e8" stroke-width="0.6"/></svg>
<div class="a" style="left:152px;top:377.9px;width:547px;height:1.0px;background:#dccbb0;"></div>
<svg class="a" style="left:153.6px;top:383.40px" width="3" height="6"><path d="M1.5 0.3 V5.3" stroke="#c4c4c4" stroke-width="2" stroke-dasharray="0.8 0.5"/></svg>
<svg class="a" style="left:277px;top:384.90px" width="3.4" height="2.4"><path d="M0 0 H3.4 L1.7 2 Z" fill="#555"/></svg>
<svg class="a" style="left:693.5px;top:383.70px" width="5" height="5"><path d="M0.6 0.6 L4.4 4.4 M4.4 0.6 L0.6 4.4" stroke="#555" stroke-width="0.85"/></svg>
<svg class="a" style="left:156px;top:400.80px" width="4" height="4"><path d="M0 0.6 H4 M0 2 H4 M0 3.4 H4" stroke="#c8c8c8" stroke-width="0.7"/></svg>
<div class="a" style="left:153px;top:406.8px;width:186px;height:0.5px;background:#eeeeee;"></div>
<div class="a" style="left:155.3px;top:409.30px;width:6.1px;height:6.1px;border:0.7px solid #c9c9c9;border-radius:1px;background:#fff"></div>
<div class="a" style="left:164px;top:409.3px;width:6px;height:6px;background:#45b39c;"></div>
<svg class="a" style="left:173px;top:409.80px" width="5" height="5"><circle cx="2.5" cy="2.5" r="2.2" fill="#9a7a55"/><circle cx="2.5" cy="2.5" r="0.9" fill="#8a9aa8"/><path d="M2.5 0.3 A2.2 2.2 0 0 0 0.6 3.6 L2.5 2.5Z" fill="#6f8a5a"/></svg>
<svg class="a" style="left:281.8px;top:410.30px" width="4" height="4"><circle cx="1.7" cy="1.7" r="1.2" fill="none" stroke="#555" stroke-width="0.7"/><line x1="2.6" y1="2.6" x2="3.7" y2="3.7" stroke="#555" stroke-width="0.7"/></svg>
<svg class="a" style="left:289px;top:411.00px" width="25" height="3"><rect x="0.8" y="0.8" width="23" height="1.6" rx="0.8" fill="#f2f2f2" stroke="#cfcfcf" stroke-width="0.6"/><rect x="0.5" y="0.5" width="14.95" height="2.2" rx="0.6" fill="#98b048"/></svg>
<div class="a" style="left:153px;top:416.8px;width:186px;height:0.4px;background:#f5f5f5;"></div>
<div class="a" style="left:155.3px;top:418.50px;width:6.1px;height:6.1px;border:0.7px solid #c9c9c9;border-radius:1px;background:#fff"></div>
<div class="a" style="left:164px;top:418.5px;width:6px;height:6px;background:#c48ccc;"></div>
<svg class="a" style="left:173px;top:419.00px" width="5" height="5"><rect x="0.2" y="0.6" width="4.6" height="3.8" fill="#4a4040"/><circle cx="2.5" cy="2.5" r="0.8" fill="#ddd"/></svg>
<svg class="a" style="left:281.8px;top:419.50px" width="4" height="4"><circle cx="1.7" cy="1.7" r="1.2" fill="none" stroke="#555" stroke-width="0.7"/><line x1="2.6" y1="2.6" x2="3.7" y2="3.7" stroke="#555" stroke-width="0.7"/></svg>
<svg class="a" style="left:289px;top:420.00px" width="25" height="3"><rect x="0.8" y="0.8" width="23" height="1.6" rx="0.8" fill="#f2f2f2" stroke="#cfcfcf" stroke-width="0.6"/><rect x="0.5" y="0.5" width="2.99" height="2.2" rx="0.6" fill="#98b048"/></svg>
<div class="a" style="left:153px;top:426.0px;width:186px;height:0.4px;background:#f5f5f5;"></div>
<div class="a" style="left:155.3px;top:427.70px;width:6.1px;height:6.1px;border:0.7px solid #c9c9c9;border-radius:1px;background:#fff"></div>
<div class="a" style="left:164px;top:427.7px;width:6px;height:6px;background:#f3a444;"></div>
<svg class="a" style="left:173px;top:428.20px" width="5" height="5"><path d="M0.3 2.5 H4.7" stroke="#b23" stroke-width="0.8"/></svg>
<svg class="a" style="left:281.8px;top:428.70px" width="4" height="4"><circle cx="1.7" cy="1.7" r="1.2" fill="none" stroke="#555" stroke-width="0.7"/><line x1="2.6" y1="2.6" x2="3.7" y2="3.7" stroke="#555" stroke-width="0.7"/></svg>
<svg class="a" style="left:289px;top:429.00px" width="25" height="3"><rect x="0.8" y="0.8" width="23" height="1.6" rx="0.8" fill="#f2f2f2" stroke="#cfcfcf" stroke-width="0.6"/><rect x="0.5" y="0.5" width="1.84" height="2.2" rx="0.6" fill="#98b048"/></svg>
<div class="a" style="left:153px;top:435.2px;width:186px;height:0.4px;background:#f5f5f5;"></div>
<div class="a" style="left:155.3px;top:436.90px;width:6.1px;height:6.1px;border:0.7px solid #c9c9c9;border-radius:1px;background:#fff"></div>
<div class="a" style="left:164px;top:436.90000000000003px;width:6px;height:6px;background:#dc1076;"></div>
<svg class="a" style="left:173px;top:437.40px" width="5" height="5"><path d="M1.4 2.2 V1.5 C1.4 0.3 3.6 0.3 3.6 1.5 V2.2" fill="none" stroke="#667" stroke-width="0.6"/><rect x="0.8" y="2.2" width="3.4" height="2.5" fill="#99a"/></svg>
<svg class="a" style="left:281.8px;top:437.90px" width="4" height="4"><circle cx="1.7" cy="1.7" r="1.2" fill="none" stroke="#555" stroke-width="0.7"/><line x1="2.6" y1="2.6" x2="3.7" y2="3.7" stroke="#555" stroke-width="0.7"/></svg>
<svg class="a" style="left:289px;top:438.50px" width="25" height="3"><rect x="0.8" y="0.8" width="23" height="1.6" rx="0.8" fill="#f2f2f2" stroke="#cfcfcf" stroke-width="0.6"/><rect x="0.5" y="0.5" width="1.33" height="2.2" rx="0.6" fill="#98b048"/></svg>
<div class="a" style="left:153px;top:444.40000000000003px;width:186px;height:0.4px;background:#f5f5f5;"></div>
<div class="a" style="left:155.3px;top:446.10px;width:6.1px;height:6.1px;border:0.7px solid #c9c9c9;border-radius:1px;background:#fff"></div>
<div class="a" style="left:164px;top:446.1px;width:6px;height:6px;background:#7371b2;"></div>
<svg class="a" style="left:173px;top:446.60px" width="5" height="5"><rect x="0.4" y="0.4" width="4.2" height="4.2" fill="#333"/><rect x="1.4" y="1.4" width="2.2" height="2.2" fill="#999"/></svg>
<svg class="a" style="left:281.8px;top:447.10px" width="4" height="4"><circle cx="1.7" cy="1.7" r="1.2" fill="none" stroke="#555" stroke-width="0.7"/><line x1="2.6" y1="2.6" x2="3.7" y2="3.7" stroke="#555" stroke-width="0.7"/></svg>
<svg class="a" style="left:289px;top:447.50px" width="25" height="3"><rect x="0.8" y="0.8" width="23" height="1.6" rx="0.8" fill="#f2f2f2" stroke="#cfcfcf" stroke-width="0.6"/><rect x="0.5" y="0.5" width="1.20" height="2.2" rx="0.6" fill="#666"/></svg>
<div class="a" style="left:153px;top:453.6px;width:186px;height:0.4px;background:#f5f5f5;"></div>
<div class="a" style="left:155.3px;top:455.30px;width:6.1px;height:6.1px;border:0.7px solid #c9c9c9;border-radius:1px;background:#fff"></div>
<div class="a" style="left:164px;top:455.3px;width:6px;height:6px;background:#58a6dc;"></div>
<svg class="a" style="left:281.8px;top:456.30px" width="4" height="4"><circle cx="1.7" cy="1.7" r="1.2" fill="none" stroke="#555" stroke-width="0.7"/><line x1="2.6" y1="2.6" x2="3.7" y2="3.7" stroke="#555" stroke-width="0.7"/></svg>
<svg class="a" style="left:289px;top:457.00px" width="25" height="3"><rect x="0.8" y="0.8" width="23" height="1.6" rx="0.8" fill="#f2f2f2" stroke="#cfcfcf" stroke-width="0.6"/><rect x="0.5" y="0.5" width="1.20" height="2.2" rx="0.6" fill="#666"/></svg>
<div class="a" style="left:153px;top:462.8px;width:186px;height:0.4px;background:#f5f5f5;"></div>
<div class="a" style="left:155.3px;top:464.50px;width:6.1px;height:6.1px;border:0.7px solid #c9c9c9;border-radius:1px;background:#fff"></div>
<div class="a" style="left:164px;top:464.5px;width:6px;height:6px;background:#bcd86c;"></div>
<svg class="a" style="left:281.8px;top:465.50px" width="4" height="4"><circle cx="1.7" cy="1.7" r="1.2" fill="none" stroke="#555" stroke-width="0.7"/><line x1="2.6" y1="2.6" x2="3.7" y2="3.7" stroke="#555" stroke-width="0.7"/></svg>
<svg class="a" style="left:289px;top:466.00px" width="25" height="3"><rect x="0.8" y="0.8" width="23" height="1.6" rx="0.8" fill="#f2f2f2" stroke="#cfcfcf" stroke-width="0.6"/><rect x="0.5" y="0.5" width="1.20" height="2.2" rx="0.6" fill="#666"/></svg>
<div class="a" style="left:153px;top:472.0px;width:186px;height:0.4px;background:#f5f5f5;"></div>
<div class="a" style="left:155.3px;top:473.70px;width:6.1px;height:6.1px;border:0.7px solid #c9c9c9;border-radius:1px;background:#fff"></div>
<div class="a" style="left:164px;top:473.7px;width:6px;height:6px;background:#e04426;"></div>
<svg class="a" style="left:173px;top:474.20px" width="5" height="5"><path d="M0.3 2.5 H4.7" stroke="#b23" stroke-width="0.8"/></svg>
<svg class="a" style="left:281.8px;top:474.70px" width="4" height="4"><circle cx="1.7" cy="1.7" r="1.2" fill="none" stroke="#555" stroke-width="0.7"/><line x1="2.6" y1="2.6" x2="3.7" y2="3.7" stroke="#555" stroke-width="0.7"/></svg>
<svg class="a" style="left:289px;top:475.00px" width="25" height="3"><rect x="0.8" y="0.8" width="23" height="1.6" rx="0.8" fill="#f2f2f2" stroke="#cfcfcf" stroke-width="0.6"/><rect x="0.5" y="0.5" width="1.20" height="2.2" rx="0.6" fill="#666"/></svg>
<div class="a" style="left:153px;top:481.2px;width:186px;height:0.4px;background:#f5f5f5;"></div>
<div class="a" style="left:155.3px;top:482.90px;width:6.1px;height:6.1px;border:0.7px solid #c9c9c9;border-radius:1px;background:#fff"></div>
<div class="a" style="left:164px;top:482.9px;width:6px;height:6px;background:#f2cdca;"></div>
<svg class="a" style="left:281.8px;top:483.90px" width="4" height="4"><circle cx="1.7" cy="1.7" r="1.2" fill="none" stroke="#555" stroke-width="0.7"/><line x1="2.6" y1="2.6" x2="3.7" y2="3.7" stroke="#555" stroke-width="0.7"/></svg>
<svg class="a" style="left:289px;top:484.50px" width="25" height="3"><rect x="0.8" y="0.8" width="23" height="1.6" rx="0.8" fill="#f2f2f2" stroke="#cfcfcf" stroke-width="0.6"/><rect x="0.5" y="0.5" width="1.20" height="2.2" rx="0.6" fill="#666"/></svg>
<div class="a" style="left:153px;top:490.4px;width:186px;height:0.4px;background:#f5f5f5;"></div>
<div class="a" style="left:155.3px;top:492.10px;width:6.1px;height:6.1px;border:0.7px solid #eeeeee;border-radius:1px;background:#fff"></div>
<div class="a" style="left:164px;top:492.1px;width:6px;height:6px;background:#88cfd0;"></div>
<svg class="a" style="left:281.8px;top:493.10px" width="4" height="4"><circle cx="1.7" cy="1.7" r="1.2" fill="none" stroke="#555" stroke-width="0.7"/><line x1="2.6" y1="2.6" x2="3.7" y2="3.7" stroke="#555" stroke-width="0.7"/></svg>
<svg class="a" style="left:289px;top:493.50px" width="25" height="3"><rect x="0.8" y="0.8" width="23" height="1.6" rx="0.8" fill="#f2f2f2" stroke="#cfcfcf" stroke-width="0.6"/><rect x="0.5" y="0.5" width="1.20" height="2.2" rx="0.6" fill="#666"/></svg>
<svg class="a" style="left:380.0px;top:397.3px" width="86" height="86"><path d="M43 43 L43.00 1.00 A42 42 0 1 1 8.52 66.98 Z" fill="#45b39c" stroke="#fff" stroke-width="0.5"/><path d="M43 43 L8.52 66.98 A42 42 0 0 1 2.01 33.84 Z" fill="#c48ccc" stroke="#fff" stroke-width="0.5"/><path d="M43 43 L2.01 33.84 A42 42 0 0 1 11.85 14.83 Z" fill="#f3a444" stroke="#fff" stroke-width="0.5"/><path d="M43 43 L11.85 14.83 A42 42 0 0 1 24.03 5.53 Z" fill="#dc1076" stroke="#fff" stroke-width="0.5"/><path d="M43 43 L24.03 5.53 A42 42 0 0 1 29.80 3.13 Z" fill="#7371b2" stroke="#fff" stroke-width="0.5"/><path d="M43 43 L29.80 3.13 A42 42 0 0 1 33.45 2.10 Z" fill="#58a6dc" stroke="#fff" stroke-width="0.5"/><path d="M43 43 L33.45 2.10 A42 42 0 0 1 35.49 1.68 Z" fill="#bcd86c" stroke="#fff" stroke-width="0.5"/><path d="M43 43 L35.49 1.68 A42 42 0 0 1 36.79 1.46 Z" fill="#e04426" stroke="#fff" stroke-width="0.5"/><path d="M43 43 L36.79 1.46 A42 42 0 0 1 37.87 1.31 Z" fill="#f2cdca" stroke="#fff" stroke-width="0.5"/><path d="M43 43 L37.87 1.31 A42 42 0 0 1 38.57 1.23 Z" fill="#88cfd0" stroke="#fff" stroke-width="0.5"/><circle cx="43" cy="43" r="22.400000000000002" fill="#fff"/><circle cx="43" cy="43" r="20.6" fill="#d0d0d0"/><rect x="21.4" y="35.4" width="43.2" height="15.2" rx="2" fill="#fff"/></svg>
<svg class="a" style="left:0;top:0" width="700" height="700"><line x1="538.10" y1="398.3" x2="538.10" y2="467" stroke="#f4f4f4" stroke-width="0.4"/><line x1="550.23" y1="398.3" x2="550.23" y2="467" stroke="#f4f4f4" stroke-width="0.4"/><line x1="562.36" y1="398.3" x2="562.36" y2="467" stroke="#f4f4f4" stroke-width="0.4"/><line x1="574.49" y1="398.3" x2="574.49" y2="467" stroke="#f4f4f4" stroke-width="0.4"/><line x1="586.62" y1="398.3" x2="586.62" y2="467" stroke="#f4f4f4" stroke-width="0.4"/><line x1="598.75" y1="398.3" x2="598.75" y2="467" stroke="#f4f4f4" stroke-width="0.4"/><line x1="610.88" y1="398.3" x2="610.88" y2="467" stroke="#f4f4f4" stroke-width="0.4"/><line x1="623.01" y1="398.3" x2="623.01" y2="467" stroke="#f4f4f4" stroke-width="0.4"/><line x1="635.14" y1="398.3" x2="635.14" y2="467" stroke="#f4f4f4" stroke-width="0.4"/><line x1="647.27" y1="398.3" x2="647.27" y2="467" stroke="#f4f4f4" stroke-width="0.4"/><polygon points="538.10,467 538.10,408.83 550.23,455.28 562.36,459.72 574.49,461.82 586.62,464.89 598.75,465.72 610.88,466.31 623.01,466.54 635.14,466.63 647.27,466.77 647.27,467" fill="#e3f3f6"/><polyline points="538.10,408.83 550.23,455.28 562.36,459.72 574.49,461.82 586.62,464.89 598.75,465.72 610.88,466.31 623.01,466.54 635.14,466.63 647.27,466.77" fill="none" stroke="#7bbdc7" stroke-width="0.95"/><circle cx="538.10" cy="408.83" r="1.0" fill="#74bac5"/><circle cx="550.23" cy="455.28" r="1.0" fill="#74bac5"/><circle cx="562.36" cy="459.72" r="1.0" fill="#74bac5"/><circle cx="574.49" cy="461.82" r="1.0" fill="#74bac5"/><circle cx="586.62" cy="464.89" r="1.0" fill="#74bac5"/><circle cx="598.75" cy="465.72" r="1.0" fill="#74bac5"/><circle cx="610.88" cy="466.31" r="1.0" fill="#74bac5"/><circle cx="623.01" cy="466.54" r="1.0" fill="#74bac5"/><circle cx="635.14" cy="466.63" r="1.0" fill="#74bac5"/><circle cx="647.27" cy="466.77" r="1.0" fill="#74bac5"/><line x1="532.1" y1="467" x2="653.27" y2="467" stroke="#cfe3e8" stroke-width="0.6"/></svg>
<svg class="a" style="left:0;top:0;will-change:transform" width="700" height="700" font-family="Liberation Sans, sans-serif"><text x="16.00" y="202.44" font-size="3.95" fill="#dcdcdc" textLength="36" lengthAdjust="spacingAndGlyphs" stroke="#dcdcdc" stroke-width="0.12">DEVICE MANAGER</text><text x="14.50" y="217.27" font-size="4.3" fill="#d0d0d0" stroke="#d0d0d0" stroke-width="0.12">MultiView</text><text x="19.20" y="226.74" font-size="3.9" fill="#d0d0d0" stroke="#d0d0d0" stroke-width="0.12">Model : NSa 3000</text><text x="24.00" y="236.36" font-size="3.9" fill="#d0d0d0" stroke="#d0d0d0" stroke-width="0.12">PM Adder NSa 3650</text><text x="19.20" y="245.98" font-size="3.9" fill="#d0d0d0" stroke="#d0d0d0" stroke-width="0.12">Model : NSa 3662</text><text x="24.00" y="255.60" font-size="3.9" fill="#d0d0d0" stroke="#d0d0d0" stroke-width="0.12">PM Viper NSa 3...</text><text x="19.20" y="265.22" font-size="3.9" fill="#d0d0d0" stroke="#d0d0d0" stroke-width="0.12">Model : NSa 4650</text><text x="24.00" y="274.84" font-size="3.9" fill="#d0d0d0" stroke="#d0d0d0" stroke-width="0.12">PM Cobra NSa ...</text><text x="19.20" y="284.46" font-size="3.9" fill="#d0d0d0" stroke="#d0d0d0" stroke-width="0.12">Model : NSa 5650</text><text x="24.00" y="294.08" font-size="3.9" fill="#d0d0d0" stroke="#d0d0d0" stroke-width="0.12">PM Asp NSa 56...</text><text x="19.20" y="303.70" font-size="3.9" fill="#d0d0d0" stroke="#d0d0d0" stroke-width="0.12">Model : NSa 6650</text><text x="24.00" y="313.32" font-size="3.9" fill="#d0d0d0" stroke="#d0d0d0" stroke-width="0.12">PM Python NSa...</text><text x="24.00" y="322.94" font-size="3.9" fill="#d0d0d0" stroke="#d0d0d0" stroke-width="0.12">SE Camel NSa6650</text><text x="19.20" y="332.56" font-size="3.9" fill="#d0d0d0" stroke="#d0d0d0" stroke-width="0.12">Model : NSa 9650</text><text x="24.00" y="342.18" font-size="3.9" fill="#d0d0d0" stroke="#d0d0d0" stroke-width="0.12">PM Anaconda ...</text><text x="19.20" y="351.80" font-size="3.9" fill="#d0d0d0" stroke="#d0d0d0" stroke-width="0.12">Model : NSv 400 (AWS)</text><text x="24.00" y="361.42" font-size="3.9" fill="#d0d0d0" stroke="#d0d0d0" stroke-width="0.12">PM AWS-GRV-NS...</text><text x="24.00" y="371.04" font-size="3.9" fill="#d0d0d0" stroke="#d0d0d0" stroke-width="0.12">PM AWS-SPS-NS...</text><text x="19.20" y="380.66" font-size="3.9" fill="#d0d0d0" stroke="#d0d0d0" stroke-width="0.12">Model : SOHO250 wirele...</text><text x="24.00" y="390.28" font-size="3.9" fill="#d0d0d0" stroke="#d0d0d0" stroke-width="0.12">PM Anchorage ...</text><text x="19.20" y="399.90" font-size="3.9" fill="#d0d0d0" stroke="#d0d0d0" stroke-width="0.12">Model : TZ 350 wireless-...</text><text x="24.00" y="409.52" font-size="3.9" fill="#d0d0d0" stroke="#d0d0d0" stroke-width="0.12">PM Laredo - TZ...</text><text x="19.20" y="419.14" font-size="3.9" fill="#d0d0d0" stroke="#d0d0d0" stroke-width="0.12">Model : TZ 400</text><text x="24.00" y="428.76" font-size="3.9" fill="#d0d0d0" stroke="#d0d0d0" stroke-width="0.12">PM Toadvale T...</text><text x="19.20" y="438.38" font-size="3.9" fill="#d0d0d0" stroke="#d0d0d0" stroke-width="0.12">Model : TZ 600</text><text x="24.00" y="448.00" font-size="3.9" fill="#d0d0d0" stroke="#d0d0d0" stroke-width="0.12">PM Marathon T...</text><text x="80.8" y="191.3" font-size="8.2" fill="#dcdcdc" textLength="24.6" lengthAdjust="spacingAndGlyphs">SONIC</text><text x="105.6" y="191.3" font-size="8.2" fill="#f4f4f4" textLength="21.6" lengthAdjust="spacingAndGlyphs">WALL</text><path d="M113.6 191.2 L114.9 188.2 L116.2 191.2" stroke="#d98a4a" stroke-width="0.9" fill="none"/><text x="88.20" y="219.89" font-size="4.1" fill="#f0f0f0" stroke="#f0f0f0" stroke-width="0.12">Overview</text><text x="88.20" y="266.66" font-size="4.0" fill="#f0f0f0" stroke="#f0f0f0" stroke-width="0.12">Summary</text><text x="88.20" y="234.53" font-size="4.2" fill="#c6c6c6">Status</text><text x="88.20" y="243.13" font-size="4.2" fill="#c6c6c6">Dashboard</text><text x="88.20" y="251.73" font-size="4.2" fill="#c6c6c6">Live Monitor</text><text x="88.20" y="281.93" font-size="4.2" fill="#c6c6c6">Applications</text><text x="88.20" y="290.43" font-size="4.2" fill="#c6c6c6">Users</text><text x="88.20" y="298.93" font-size="4.2" fill="#c6c6c6">Viruses</text><text x="88.20" y="307.43" font-size="4.2" fill="#c6c6c6">Intrusions</text><text x="88.20" y="315.93" font-size="4.2" fill="#c6c6c6">Spyware</text><text x="88.20" y="324.43" font-size="4.2" fill="#c6c6c6">Botnet</text><text x="88.20" y="332.93" font-size="4.2" fill="#c6c6c6">Web Categories</text><text x="88.20" y="341.43" font-size="4.2" fill="#c6c6c6">Sources</text><text x="88.20" y="349.93" font-size="4.2" fill="#c6c6c6">Destinations</text><text x="88.20" y="358.43" font-size="4.2" fill="#c6c6c6">Source Locations</text><text x="88.20" y="366.93" font-size="4.2" fill="#c6c6c6">Destination Locations</text><text x="88.20" y="375.43" font-size="4.2" fill="#c6c6c6">BW Queues</text><text x="88.20" y="383.93" font-size="4.2" fill="#c6c6c6">Blocked</text><text x="88.20" y="392.43" font-size="4.2" fill="#c6c6c6">Threats</text><text x="88.20" y="407.39" font-size="4.1" fill="#eeeeee" stroke="#eeeeee" stroke-width="0.1">Capture ATP</text><text x="151.00" y="191.72" font-size="6.1" fill="#3a3a3a" textLength="24.4" lengthAdjust="spacingAndGlyphs">Analytics</text><text x="151.50" y="212.49" font-size="14.5" fill="#2c2c2c">Applications</text><text x="158.60" y="220.84" font-size="3.4" fill="#b0b0b0" textLength="120.5" lengthAdjust="spacingAndGlyphs">/ Tenant - PM Demo Capture/Dual Units / PM Python NSa 6650</text><text x="287.60" y="191.41" font-size="4.15" fill="#a0a0a0" stroke="#a0a0a0" stroke-width="0.1">HOME</text><text x="335.10" y="191.21" font-size="4.15" fill="#9a9a9a" stroke="#9a9a9a" stroke-width="0.1">MANAGE</text><text x="382.60" y="191.31" font-size="4.15" fill="#9a9a9a" stroke="#9a9a9a" stroke-width="0.1">REPORTS</text><text x="430.10" y="191.21" font-size="4.15" fill="#9a9a9a" stroke="#9a9a9a" stroke-width="0.1">ANALYTICS</text><text x="477.70" y="191.11" font-size="4.15" fill="#dcdcdc" stroke="#dcdcdc" stroke-width="0.1">INVESTIGATE</text><text x="529.50" y="191.01" font-size="4.15" fill="#888" stroke="#888" stroke-width="0.1">CONSOLE</text><text x="692.50" y="190.31" font-size="3.6" fill="#d8d8d8" text-anchor="middle" stroke="#d8d8d8" stroke-width="0.1">PM</text><text x="196.30" y="233.88" font-size="2.7" fill="#a04000" text-anchor="middle">Last 24 hours</text><text x="260.20" y="234.12" font-size="3.9" fill="#999">Custom</text><text x="157.80" y="250.59" font-size="4.65" fill="#5e5e5e" stroke="#5e5e5e" stroke-width="0.12">TOP APPLICATIONS BY CONNECTIONS</text><text x="164.70" y="261.79" font-size="4.1" fill="#555" textLength="43" lengthAdjust="spacingAndGlyphs" stroke="#555" stroke-width="0.2">APPLICATIONS NAME</text><text x="228.20" y="261.78" font-size="4.05" fill="#555" textLength="29.9" lengthAdjust="spacingAndGlyphs" stroke="#555" stroke-width="0.2">CONNECTIONS</text><text x="281.80" y="261.75" font-size="3.98" fill="#555" textLength="27.1" lengthAdjust="spacingAndGlyphs" stroke="#555" stroke-width="0.2">PERCENTAGE</text><text x="180.00" y="270.58" font-size="3.5" fill="#6aa6d4">BitTorrent Peer...</text><text x="228.30" y="270.61" font-size="3.6" fill="#6a6a6a">66.5 K</text><text x="315.20" y="270.61" font-size="3.6" fill="#6a6a6a">36.96%</text><text x="180.00" y="279.81" font-size="3.5" fill="#6aa6d4">SSL</text><text x="228.30" y="279.84" font-size="3.6" fill="#6a6a6a">40.7 K</text><text x="315.20" y="279.84" font-size="3.6" fill="#6a6a6a">22.62%</text><text x="180.00" y="289.04" font-size="3.5" fill="#6aa6d4">Google Chrome</text><text x="228.30" y="289.07" font-size="3.6" fill="#6a6a6a">33.8 K</text><text x="315.20" y="289.07" font-size="3.6" fill="#6a6a6a">18.60%</text><text x="180.00" y="298.27" font-size="3.5" fill="#6aa6d4">Image</text><text x="228.30" y="298.30" font-size="3.6" fill="#6a6a6a">12 K</text><text x="315.20" y="298.30" font-size="3.6" fill="#6a6a6a">6.67%</text><text x="180.00" y="307.50" font-size="3.5" fill="#6aa6d4">Encrypted Peer...</text><text x="228.30" y="307.53" font-size="3.6" fill="#6a6a6a">10 K</text><text x="315.20" y="307.53" font-size="3.6" fill="#6a6a6a">5.58%</text><text x="180.00" y="316.73" font-size="3.5" fill="#6aa6d4">General UDP</text><text x="228.30" y="316.76" font-size="3.6" fill="#6a6a6a">5.5 K</text><text x="315.20" y="316.76" font-size="3.6" fill="#6a6a6a">3.04%</text><text x="180.00" y="325.96" font-size="3.5" fill="#6aa6d4">General TCP</text><text x="228.30" y="325.99" font-size="3.6" fill="#6a6a6a">4.4 K</text><text x="315.20" y="325.99" font-size="3.6" fill="#6a6a6a">2.47%</text><text x="180.00" y="335.19" font-size="3.5" fill="#6aa6d4">General NTP G...</text><text x="228.30" y="335.22" font-size="3.6" fill="#6a6a6a">3.7 K</text><text x="315.20" y="335.22" font-size="3.6" fill="#6a6a6a">2.08%</text><text x="180.00" y="344.42" font-size="3.5" fill="#6aa6d4">Paddy CDN</text><text x="228.30" y="344.45" font-size="3.6" fill="#6a6a6a">2.5 K</text><text x="315.20" y="344.45" font-size="3.6" fill="#6a6a6a">1.40%</text><text x="180.00" y="353.65" font-size="3.5" fill="#6aa6d4">Facebook</text><text x="228.30" y="353.68" font-size="3.6" fill="#6a6a6a">1.2 K</text><text x="315.20" y="353.68" font-size="3.6" fill="#6a6a6a"><1%</text><text x="318.20" y="367.12" font-size="3.9" fill="#5577a8" stroke="#5577a8" stroke-width="0.1">details...</text><text x="423.00" y="290.97" font-size="4.3" fill="#555" text-anchor="middle" stroke="#555" stroke-width="0.1">66.5 K</text><text x="423.00" y="305.00" font-size="4.4" fill="#808080" text-anchor="middle">Different Protocol</text><text x="423.00" y="317.47" font-size="4.3" fill="#555" text-anchor="middle" stroke="#555" stroke-width="0.1">36.96%</text><text x="524.50" y="261.99" font-size="3.0" fill="#808080" text-anchor="end">80K</text><text x="524.50" y="279.19" font-size="3.0" fill="#808080" text-anchor="end">60K</text><text x="524.50" y="296.44" font-size="3.0" fill="#808080" text-anchor="end">40K</text><text x="524.50" y="313.69" font-size="3.0" fill="#808080" text-anchor="end">20K</text><text x="524.50" y="330.89" font-size="3.0" fill="#808080" text-anchor="end">0</text><text x="513.30" y="296.52" font-size="3.2" fill="#444" text-anchor="middle" transform="rotate(-90 513.30 295.35)" stroke="#444" stroke-width="0.15">Connections</text><text x="533.80" y="337.48" font-size="2.95" fill="#707070" text-anchor="end" transform="rotate(-45 533.80 336.40)">BitTorrent Peer Protocol</text><text x="546.45" y="337.48" font-size="2.95" fill="#707070" text-anchor="end" transform="rotate(-45 546.45 336.40)">SSL</text><text x="559.10" y="337.48" font-size="2.95" fill="#707070" text-anchor="end" transform="rotate(-45 559.10 336.40)">Google Chrome</text><text x="571.75" y="337.48" font-size="2.95" fill="#707070" text-anchor="end" transform="rotate(-45 571.75 336.40)">Image</text><text x="584.40" y="337.48" font-size="2.95" fill="#707070" text-anchor="end" transform="rotate(-45 584.40 336.40)">Encrypted Peer Protocol</text><text x="597.05" y="337.48" font-size="2.95" fill="#707070" text-anchor="end" transform="rotate(-45 597.05 336.40)">General UDP</text><text x="609.70" y="337.48" font-size="2.95" fill="#707070" text-anchor="end" transform="rotate(-45 609.70 336.40)">General TCP</text><text x="622.35" y="337.48" font-size="2.95" fill="#707070" text-anchor="end" transform="rotate(-45 622.35 336.40)">General NTP Service</text><text x="635.00" y="337.48" font-size="2.95" fill="#707070" text-anchor="end" transform="rotate(-45 635.00 336.40)">Paddy CDN</text><text x="647.65" y="337.48" font-size="2.95" fill="#707070" text-anchor="end" transform="rotate(-45 647.65 336.40)">Facebook</text><text x="157.80" y="387.89" font-size="4.65" fill="#5e5e5e" stroke="#5e5e5e" stroke-width="0.12">TOP APPLICATIONS BY TOTAL DATA TRANSFERRED</text><text x="164.70" y="404.29" font-size="4.1" fill="#555" textLength="43" lengthAdjust="spacingAndGlyphs" stroke="#555" stroke-width="0.2">APPLICATIONS NAME</text><text x="228.30" y="398.76" font-size="4.0" fill="#555" stroke="#555" stroke-width="0.2">TOTAL DATA</text><text x="228.30" y="404.26" font-size="4.0" fill="#555" stroke="#555" stroke-width="0.2">TRANSFERRED</text><text x="281.80" y="404.25" font-size="3.98" fill="#555" textLength="27.1" lengthAdjust="spacingAndGlyphs" stroke="#555" stroke-width="0.2">PERCENTAGE</text><text x="180.00" y="413.58" font-size="3.5" fill="#6aa6d4">Google Chrome</text><text x="228.30" y="413.61" font-size="3.6" fill="#6a6a6a">1.3 GB</text><text x="315.20" y="413.61" font-size="3.6" fill="#6a6a6a">65.33%</text><text x="180.00" y="422.78" font-size="3.5" fill="#6aa6d4">Image</text><text x="228.30" y="422.81" font-size="3.6" fill="#6a6a6a">256.3 MB</text><text x="315.20" y="422.81" font-size="3.6" fill="#6a6a6a">13.17%</text><text x="180.00" y="431.98" font-size="3.5" fill="#6aa6d4">WEBS</text><text x="228.30" y="432.01" font-size="3.6" fill="#6a6a6a">159.4 MB</text><text x="315.20" y="432.01" font-size="3.6" fill="#6a6a6a">8.20%</text><text x="180.00" y="441.18" font-size="3.5" fill="#6aa6d4">SSL</text><text x="228.30" y="441.21" font-size="3.6" fill="#6a6a6a">113.5 MB</text><text x="315.20" y="441.21" font-size="3.6" fill="#6a6a6a">5.84%</text><text x="180.00" y="450.38" font-size="3.5" fill="#6aa6d4">Archive</text><text x="228.30" y="450.41" font-size="3.6" fill="#6a6a6a">46.2 MB</text><text x="315.20" y="450.41" font-size="3.6" fill="#6a6a6a">2.37%</text><text x="180.00" y="459.58" font-size="3.5" fill="#6aa6d4">BitTorrent Peer...</text><text x="228.30" y="459.61" font-size="3.6" fill="#6a6a6a">28 MB</text><text x="315.20" y="459.61" font-size="3.6" fill="#6a6a6a">1.44%</text><text x="180.00" y="468.78" font-size="3.5" fill="#6aa6d4">Bank of America</text><text x="228.30" y="468.81" font-size="3.6" fill="#6a6a6a">15.4 MB</text><text x="315.20" y="468.81" font-size="3.6" fill="#6a6a6a"><1%</text><text x="180.00" y="477.98" font-size="3.5" fill="#6aa6d4">Paddy CDN</text><text x="228.30" y="478.01" font-size="3.6" fill="#6a6a6a">9.8 MB</text><text x="315.20" y="478.01" font-size="3.6" fill="#6a6a6a"><1%</text><text x="180.00" y="487.18" font-size="3.5" fill="#6aa6d4">Encrypted Peer...</text><text x="228.30" y="487.21" font-size="3.6" fill="#6a6a6a">8 MB</text><text x="315.20" y="487.21" font-size="3.6" fill="#6a6a6a"><1%</text><text x="180.00" y="496.38" font-size="3.5" fill="#6aa6d4">General UDP</text><text x="228.30" y="496.41" font-size="3.6" fill="#6a6a6a">5.2 MB</text><text x="315.20" y="496.41" font-size="3.6" fill="#6a6a6a"><1%</text><text x="318.20" y="509.32" font-size="3.9" fill="#5577a8" stroke="#5577a8" stroke-width="0.1">details...</text><text x="423.00" y="427.97" font-size="4.3" fill="#555" text-anchor="middle" stroke="#555" stroke-width="0.1">1.3 GB</text><text x="423.00" y="442.00" font-size="4.4" fill="#808080" text-anchor="middle">Google Chrome</text><text x="423.00" y="454.47" font-size="4.3" fill="#555" text-anchor="middle" stroke="#555" stroke-width="0.1">65.33%</text><text x="528.60" y="399.39" font-size="3.0" fill="#808080" text-anchor="end">1.5GB</text><text x="528.60" y="422.29" font-size="3.0" fill="#808080" text-anchor="end">1GB</text><text x="528.60" y="445.19" font-size="3.0" fill="#808080" text-anchor="end">500MB</text><text x="528.60" y="468.09" font-size="3.0" fill="#808080" text-anchor="end">0</text><text x="513.50" y="433.82" font-size="3.2" fill="#444" text-anchor="middle" transform="rotate(-90 513.50 432.65)" stroke="#444" stroke-width="0.15">Data Transferred</text><text x="539.10" y="474.68" font-size="2.95" fill="#707070" text-anchor="end" transform="rotate(-45 539.10 473.60)">Google Chrome</text><text x="551.23" y="474.68" font-size="2.95" fill="#707070" text-anchor="end" transform="rotate(-45 551.23 473.60)">Image</text><text x="563.36" y="474.68" font-size="2.95" fill="#707070" text-anchor="end" transform="rotate(-45 563.36 473.60)">HTTPS</text><text x="575.49" y="474.68" font-size="2.95" fill="#707070" text-anchor="end" transform="rotate(-45 575.49 473.60)">SSL</text><text x="587.62" y="474.68" font-size="2.95" fill="#707070" text-anchor="end" transform="rotate(-45 587.62 473.60)">Archive</text><text x="599.75" y="474.68" font-size="2.95" fill="#707070" text-anchor="end" transform="rotate(-45 599.75 473.60)">BitTorrent Protocol</text><text x="611.88" y="474.68" font-size="2.95" fill="#707070" text-anchor="end" transform="rotate(-45 611.88 473.60)">Bank of America</text><text x="624.01" y="474.68" font-size="2.95" fill="#707070" text-anchor="end" transform="rotate(-45 624.01 473.60)">Paddy CDN</text><text x="636.14" y="474.68" font-size="2.95" fill="#707070" text-anchor="end" transform="rotate(-45 636.14 473.60)">Encrypted Peer Protocol</text><text x="648.27" y="474.68" font-size="2.95" fill="#707070" text-anchor="end" transform="rotate(-45 648.27 473.60)">General UDP</text></svg>
</body></html>
